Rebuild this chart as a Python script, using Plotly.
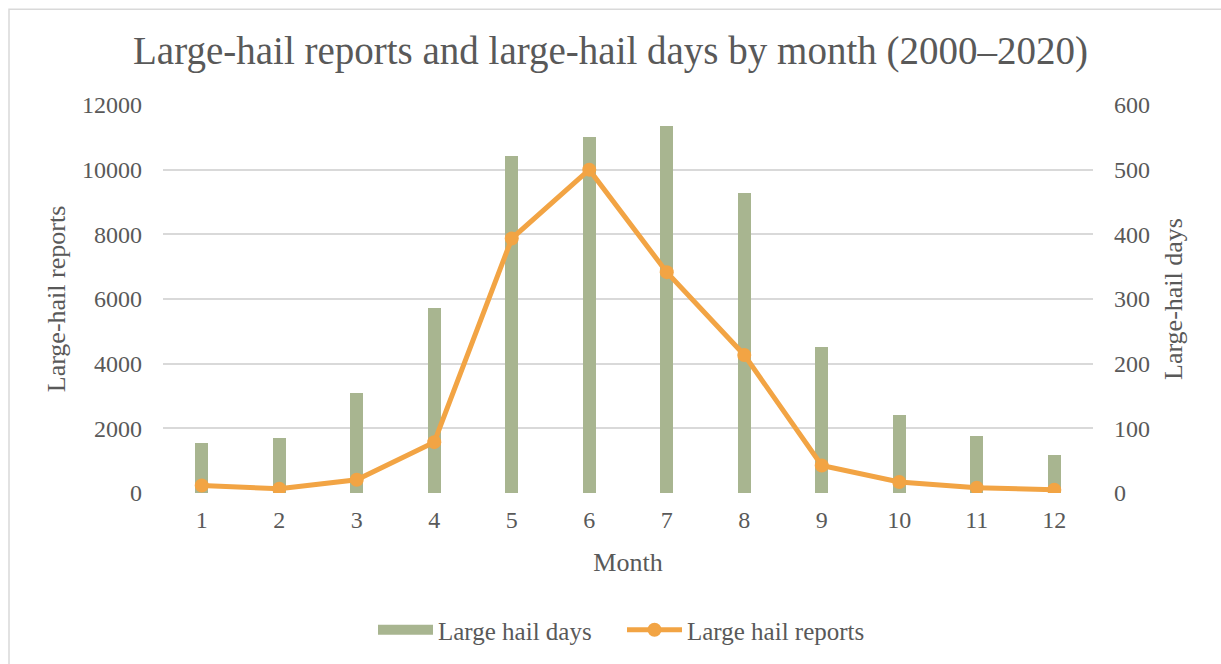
import plotly.graph_objects as go

months = [1, 2, 3, 4, 5, 6, 7, 8, 9, 10, 11, 12]
hail_days = [78, 85, 154, 286, 521, 550, 568, 464, 226, 121, 88, 58]
hail_reports = [234, 133, 410, 1572, 7870, 10000, 6830, 4270, 850, 340, 165, 100]

FONT = "Liberation Serif"
GRAY = "#595959"
GREEN = "#A8B590"
ORANGE = "#F2A444"

fig = go.Figure()
fig.add_trace(go.Bar(
    x=months, y=hail_days, name="Large hail days",
    marker=dict(color=GREEN, line=dict(width=0)),
    width=0.165, yaxis="y", showlegend=False,
))
# legend stand-in for the bar series (wide rectangle swatch)
fig.add_trace(go.Scatter(
    x=[None], y=[None], name="Large hail days", mode="lines",
    line=dict(color=GREEN, width=13), yaxis="y", hoverinfo="skip",
))
fig.add_trace(go.Scatter(
    x=months, y=hail_reports, name="Large hail reports",
    mode="lines+markers",
    line=dict(color=ORANGE, width=5),
    marker=dict(color=ORANGE, size=14),
    yaxis="y2",
))

W, H = 1221, 664
L, R, T, B = 163, 128, 105, 170
pw, ph = W - L - R, H - T - B

def px(x):
    return (x - L) / pw

def py(y):
    return (H - B - y) / ph

fig.update_layout(
    width=W, height=H,
    margin=dict(l=L, r=R, t=T, b=B),
    paper_bgcolor="white", plot_bgcolor="white",
    font=dict(family=FONT, color=GRAY),
    title=dict(text="Large-hail reports and large-hail days by month (2000–2020)",
               x=0.5, xanchor="center", y=1 - 50 / H, yanchor="middle",
               font=dict(family=FONT, size=39, color=GRAY)),
    showlegend=True,
    legend=dict(orientation="h", x=px(622), xanchor="center", y=py(630), yanchor="middle",
                font=dict(family=FONT, size=25, color=GRAY), itemwidth=55,
                entrywidth=179, entrywidthmode="pixels",
                traceorder="normal"),
    bargap=0,
    xaxis=dict(range=[0.5, 12.5], tickvals=months, ticktext=[str(m) for m in months],
               showgrid=False, zeroline=False, showline=False,
               tickfont=dict(family=FONT, size=24, color=GRAY),
               ticks="", ticklabelstandoff=10,
               title=dict(text="Month", font=dict(family=FONT, size=26, color=GRAY), standoff=20)),
    yaxis=dict(range=[0, 600], dtick=100, side="right", tickformat="d",
               showgrid=True, gridcolor="#D9D9D9", gridwidth=2,
               zeroline=False, showline=False, ticks="",
               tickfont=dict(family=FONT, size=24, color=GRAY),
               ticklabelstandoff=20,
               title=dict(text="Large-hail days", font=dict(family=FONT, size=26, color=GRAY), standoff=14)),
    yaxis2=dict(range=[0, 12000], dtick=2000, side="left", overlaying="y", tickformat="d",
                showgrid=False, zeroline=False, showline=False, ticks="",
                tickfont=dict(family=FONT, size=24, color=GRAY),
                ticklabelstandoff=20,
                title=dict(text="Large-hail reports", font=dict(family=FONT, size=26, color=GRAY), standoff=8)),
    shapes=[dict(type="rect", xref="paper", yref="paper",
                 x0=px(9), x1=px(1230), y0=py(675), y1=py(9),
                 line=dict(color="#D9D9D9", width=1.5), fillcolor="rgba(0,0,0,0)", layer="below")],
)

fig.write_html("out.html", post_script="document.body.style.margin='0';",
               config={"displayModeBar": False})
